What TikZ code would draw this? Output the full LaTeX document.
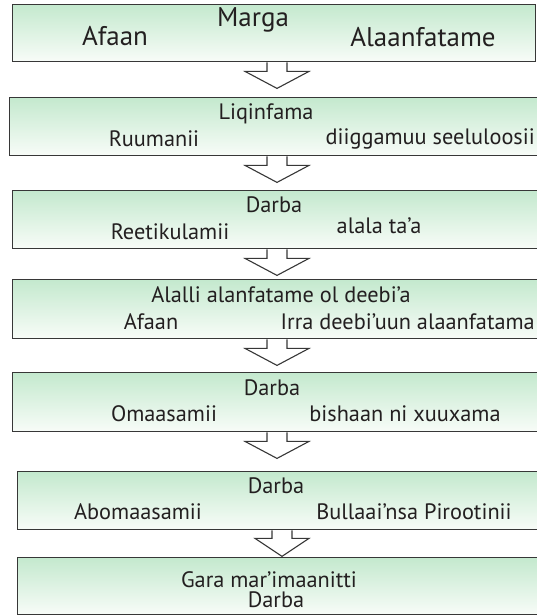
\documentclass[tikz,border=0pt]{standalone}
\usepackage{fontspec}
\setmainfont{PT Sans}
\usetikzlibrary{calc,backgrounds}

\definecolor{mintgreen}{RGB}{196,233,206}
\definecolor{paleend}{RGB}{248,252,248}
\definecolor{boxgray}{RGB}{55,55,55}
\definecolor{textgray}{RGB}{35,31,32}

\tikzset{
  stagebox/.style={rectangle, draw=boxgray, line width=1.4pt, top color=mintgreen,
    bottom color=paleend, inner sep=0pt, anchor=north west, minimum height=58pt},
  flowarrow/.style={draw=boxgray, line width=1.1pt, fill=white, line join=miter},
  bigtext/.style={anchor=base, inner sep=0pt, text=textgray, font=\fontsize{27}{32}\selectfont},
  steptext/.style={anchor=base, inner sep=0pt, text=textgray, font=\fontsize{22.3}{26}\selectfont},
}

\begin{document}
\begin{tikzpicture}[x=1pt,y=-1pt]
  \useasboundingbox (0,0) rectangle (536,616);

  % stages
  \node[stagebox, minimum width=523pt, minimum height=57pt] (marga) at (12,4) {};
  \node[stagebox, minimum width=540pt] (liqinfama) at (9,97) {};
  \node[stagebox, minimum width=540pt] (reetikulamii) at (12,190) {};
  \node[stagebox, minimum width=540pt, minimum height=59pt] (alalli) at (12,279) {};
  \node[stagebox, minimum width=540pt, minimum height=59pt] (omaasamii) at (12,372) {};
  \node[stagebox, minimum width=540pt] (abomaasamii) at (17,471) {};
  \node[stagebox, minimum width=540pt, minimum height=57pt] (gara) at (17,557) {};

  % arrows between stages
  \coordinate (ax) at (277,0);
  \coordinate (axb) at (282,0);
  \begin{scope}[on background layer]
    \foreach \stage/\n in {marga/1,liqinfama/2,reetikulamii/3,alalli/4,omaasamii/5}{
      \coordinate (top\n) at (\stage.south -| ax);
      \filldraw[flowarrow] ($(top\n)+(-10,0)$) -- ++(0,9) -- ++(-22,0) -- ($(top\n)+(0,26)$)
        -- ($(top\n)+(32,9)$) -- ++(-22,0) -- ++(0,-9);
    }
    \coordinate (top6) at (abomaasamii.south -| axb);
    \filldraw[flowarrow] ($(top6)+(-10,0)$) -- ++(0,8) -- ++(-17,0) -- ($(top6)+(0,26)$)
      -- ($(top6)+(27,8)$) -- ++(-17,0) -- ++(0,-8);
  \end{scope}

  % labels
  \node[bigtext] (margat) at (253,26) {Marga};
  \node[bigtext] (afaana) at (115,45) {Afaan};
  \node[bigtext] (alaanfatame) at (423,46) {Alaanfatame};

  \node[steptext] (liqinfamat) at (266,119) {Liqinfama};
  \node[steptext] (ruumanii) at (154,146) {Ruumanii};
  \node[steptext, anchor=base east] (diiggamuu) at (535,144) {diiggamuu seeluloosii};

  \node[steptext] (darbaa) at (274,212) {Darba};
  \node[steptext] (reetikulamiit) at (170,239) {Reetikulamii};
  \node[steptext] (alala) at (379,233) {alala ta’a};

  \node[steptext] (alallit) at (281,302) {Alalli alanfatame ol deebi’a};
  \node[steptext] (afaanb) at (151,329) {Afaan};
  \node[steptext, anchor=base east] (irra) at (535,329) {Irra deebi’uun alaanfatama};

  \node[steptext] (darbab) at (272,395) {Darba};
  \node[steptext] (omaasamiit) at (164,421) {Omaasamii};
  \node[steptext] (bishaan) at (405,421) {bishaan ni xuuxama};

  \node[steptext] (darbac) at (276,493) {Darba};
  \node[steptext] (abomaasamiit) at (138,519) {Abomaasamii};
  \node[steptext] (bullaai) at (414,519) {Bullaai’nsa Pirootinii};

  \node[steptext] (garat) at (269,587) {Gara mar’imaanitti};
  \node[steptext] (darbad) at (276,607) {Darba};
\end{tikzpicture}
\end{document}
